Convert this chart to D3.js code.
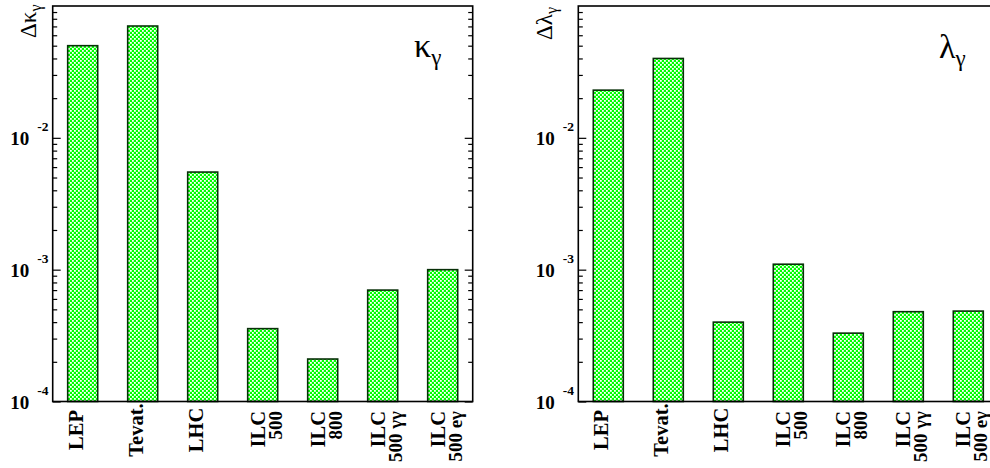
<!DOCTYPE html>
<html>
<head>
<meta charset="utf-8">
<script src="https://cdn.jsdelivr.net/npm/d3@7"></script>
<style>
  html, body { margin: 0; padding: 0; background: #fff; }
  svg { display: block; }
  text { font-family: "Liberation Serif", "Times New Roman", serif; }
</style>
</head>
<body>
<svg id="chart" width="990" height="468"></svg>
<script>
// ---- data ----
const categories = ["LEP", "Tevat.", "LHC", "ILC 500", "ILC 800", "ILC 500 γγ", "ILC 500 eγ"];
const labelLine1 = ["LEP", "Tevat.", "LHC", "ILC", "ILC", "ILC", "ILC"];
const labelLine2 = ["", "", "", "500", "800", "500 γγ", "500 eγ"];
const kappaValues  = [0.050, 0.0705, 0.0055, 3.57e-4, 2.1e-4, 7.0e-4, 1.0e-3];
const lambdaValues = [0.023, 0.040, 4.0e-4, 1.1e-3, 3.3e-4, 4.8e-4, 4.85e-4];
const yDomain = [1e-4, 1e-1];
const yMajorTicks = [1e-4, 1e-3, 1e-2];
const yMajorExponents = ["-4", "-3", "-2"];

const svg = d3.select("#chart");

// hatch pattern
const defs = svg.append("defs");
const pat = defs.append("pattern")
  .attr("id", "hatch").attr("patternUnits", "userSpaceOnUse")
  .attr("width", 4).attr("height", 4);
pat.append("rect").attr("width", 4).attr("height", 4).attr("fill", "#00ff00");
pat.append("rect").attr("x", 0).attr("y", 0).attr("width", 1.8).attr("height", 1.8).attr("fill", "#ffffff");
pat.append("rect").attr("x", 2).attr("y", 2).attr("width", 1.8).attr("height", 1.8).attr("fill", "#ffffff");

const plotTop = 6, plotBottom = 401.5;

function drawPanel(cfg) {
  const g = svg.append("g");
  const x = d3.scaleBand().domain(categories)
    .range([cfg.x0, cfg.x1]).paddingInner(0.5).paddingOuter(0.25);
  const y = d3.scaleLog().domain(yDomain).range([plotBottom, plotTop]);

  // bars
  g.selectAll("rect.bar").data(cfg.values).enter().append("rect")
    .attr("class", "bar")
    .attr("x", (d, i) => x(categories[i]))
    .attr("y", d => y(d))
    .attr("width", x.bandwidth())
    .attr("height", d => y(yDomain[0]) - y(d))
    .attr("fill", "url(#hatch)")
    .attr("stroke", "#083008")
    .attr("stroke-width", 1.6);

  // ticks
  const allTicks = y.ticks();
  const minorTicks = allTicks.filter(t => !yMajorTicks.some(m => Math.abs(m - t) / m < 1e-6) && t < yDomain[1] * 0.999);
  const mk = (axisFn, xpos, vals, size) => {
    const a = g.append("g").attr("transform", `translate(${xpos},0)`)
      .call(axisFn(y).tickValues(vals).tickSize(-size).tickFormat(""));
    a.select(".domain").remove();
    a.selectAll("line").attr("stroke", "#000").attr("stroke-width", 1.2);
  };
  mk(d3.axisLeft, cfg.x0, yMajorTicks, 8);
  mk(d3.axisLeft, cfg.x0, minorTicks, 4.5);
  mk(d3.axisRight, cfg.x1, yMajorTicks, 8);
  mk(d3.axisRight, cfg.x1, minorTicks, 4.5);

  // frame
  g.append("rect").attr("x", cfg.x0).attr("y", plotTop)
    .attr("width", cfg.x1 - cfg.x0).attr("height", plotBottom - plotTop)
    .attr("fill", "none").attr("stroke", "#000").attr("stroke-width", 1.6);

  // tick labels
  yMajorTicks.forEach((t, i) => {
    g.append("text").attr("x", cfg.x0 - 23.5).attr("y", y(t) + 7.5)
      .attr("text-anchor", "end").attr("font-weight", "bold").attr("font-size", 19)
      .text("10");
    g.append("text").attr("x", cfg.x0 - 15.5).attr("y", y(t) - 7)
      .attr("text-anchor", "start").attr("font-weight", "bold").attr("font-size", 13.5)
      .text(yMajorExponents[i]);
  });

  // category labels
  categories.forEach((c, i) => {
    const cx = x(c) + x.bandwidth() / 2;
    if (!labelLine2[i]) {
      g.append("text")
        .attr("transform", `translate(${cx},430) rotate(-90)`)
        .attr("text-anchor", "middle").attr("font-weight", "bold").attr("font-size", 20.5)
        .text(labelLine1[i]);
    } else {
      g.append("text")
        .attr("transform", `translate(${cx + 2},411) rotate(-90)`)
        .attr("text-anchor", "end").attr("font-weight", "bold").attr("font-size", 20.5)
        .text(labelLine1[i]);
      g.append("text")
        .attr("transform", `translate(${cx + 19},411) rotate(-90)`)
        .attr("text-anchor", "end").attr("font-weight", "bold").attr("font-size", 19)
        .text(labelLine2[i]);
    }
  });

  // y-axis title
  const yt = g.append("text")
    .attr("transform", `translate(${cfg.ytX},${cfg.ytY}) rotate(-90)`)
    .attr("text-anchor", "start").attr("font-size", 23);
  yt.append("tspan").text("Δ" + cfg.sym);
  yt.append("tspan").attr("font-size", 16).attr("dy", 5).text("γ");

  // in-plot title
  const tt = g.append("text").attr("x", cfg.tX).attr("y", cfg.tY).attr("font-size", 34);
  tt.append("tspan").text(cfg.sym);
  tt.append("tspan").attr("font-size", 23).attr("dy", 8).text("γ");
}

drawPanel({ values: kappaValues, x0: 52.7, x1: 472.7, sym: "κ", ytX: 36, ytY: 38, tX: 414, tY: 57 });
drawPanel({ values: lambdaValues, x0: 578.3, x1: 998.3, sym: "λ", ytX: 552, ytY: 40, tX: 939, tY: 58 });
</script>
</body>
</html>
